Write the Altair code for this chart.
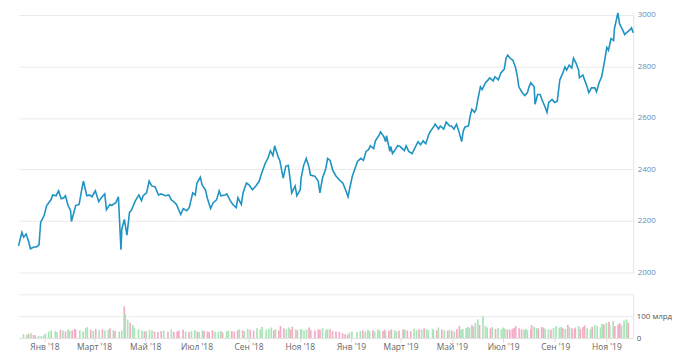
import altair as alt
import pandas as pd

# days counted from 2018-01-01
days = [-25, -21, -19, -16, -13, -11, -7, -4, -1, 1,
        5, 8, 13, 15, 19, 22, 25, 28, 30, 33,
        36, 37, 42, 46, 49, 51, 55, 58, 61, 65,
        69, 72, 76, 78, 82, 84, 89, 92, 95, 96,
        99, 102, 105, 107, 112, 116, 119, 121, 125, 128,
        131, 135, 139, 142, 147, 151, 154, 158, 160, 165,
        168, 172, 175, 179, 182, 184, 188, 190, 194, 196,
        200, 203, 207, 210, 212, 217, 219, 223, 226, 230,
        232, 236, 238, 242, 245, 249, 253, 257, 259, 264,
        267, 270, 273, 275, 279, 281, 285, 288, 291, 293,
        295, 299, 301, 305, 306, 309, 312, 315, 317, 322,
        326, 328, 331, 335, 337, 340, 343, 347, 351, 355,
        358, 361, 363, 366, 372, 376, 379, 382, 385, 387,
        391, 393, 397, 399, 403, 405, 406, 410, 411, 413,
        417, 419, 422, 427, 429, 432, 436, 440, 443, 446,
        449, 452, 455, 457, 462, 463, 467, 469, 473, 476,
        480, 482, 485, 488, 491, 494, 496, 498, 502, 504,
        506, 509, 511, 513, 516, 518, 522, 525, 527, 531,
        533, 537, 540, 544, 546, 548, 551, 554, 557, 559,
        561, 565, 568, 571, 573, 575, 579, 580, 583, 586,
        588, 592, 594, 596, 600, 603, 606, 609, 613, 615,
        617, 620, 623, 625, 628, 631, 632, 636, 638, 641,
        643, 646, 650, 652, 655, 658, 662, 664, 666, 669,
        672, 673, 677, 679, 683, 685, 687, 690, 693, 695]

close = [2103, 2156, 2137, 2149, 2118, 2092, 2099, 2099, 2107, 2195,
         2221, 2260, 2282, 2301, 2298, 2317, 2286, 2290, 2298, 2260,
         2240, 2198, 2260, 2264, 2321, 2355, 2298, 2301, 2294, 2317,
         2275, 2290, 2305, 2244, 2264, 2260, 2271, 2294, 2088, 2168,
         2206, 2145, 2233, 2240, 2279, 2301, 2279, 2298, 2309, 2355,
         2336, 2332, 2301, 2305, 2298, 2301, 2282, 2271, 2264, 2225,
         2248, 2240, 2252, 2309, 2301, 2347, 2370, 2340, 2321, 2290,
         2248, 2271, 2282, 2317, 2298, 2301, 2305, 2279, 2264, 2252,
         2290, 2264, 2309, 2347, 2340, 2321, 2336, 2355, 2378, 2424,
         2443, 2473, 2454, 2492, 2450, 2435, 2366, 2412, 2416, 2366,
         2309, 2336, 2298, 2321, 2366, 2416, 2443, 2412, 2378, 2374,
         2355, 2309, 2366, 2405, 2443, 2435, 2397, 2374, 2359, 2347,
         2321, 2294, 2328, 2374, 2431, 2443, 2435, 2470, 2477, 2492,
         2481, 2511, 2531, 2546, 2527, 2508, 2531, 2470, 2489, 2462,
         2481, 2492, 2489, 2473, 2492, 2470, 2462, 2489, 2508, 2496,
         2511, 2500, 2531, 2546, 2569, 2576, 2557, 2569, 2557, 2584,
         2569, 2569, 2557, 2576, 2546, 2508, 2550, 2565, 2569, 2607,
         2634, 2622, 2634, 2672, 2721, 2710, 2737, 2748, 2756, 2744,
         2760, 2748, 2775, 2790, 2832, 2844, 2832, 2824, 2798, 2767,
         2721, 2698, 2687, 2698, 2721, 2737, 2721, 2653, 2691, 2691,
         2672, 2641, 2622, 2660, 2672, 2660, 2665, 2748, 2779, 2798,
         2786, 2805, 2794, 2832, 2813, 2786, 2756, 2767, 2748, 2721,
         2698, 2717, 2717, 2702, 2737, 2760, 2832, 2874, 2863, 2908,
         2901, 2947, 3008, 2966, 2939, 2924, 2931, 2939, 2950, 2931]

# volume, billions of rubles
volume = [18, 15, 20, 22, 14, 12, 10, 8, 12, 20,
          30, 35, 32, 28, 38, 35, 30, 40, 33, 36,
          42, 38, 35, 30, 45, 50, 38, 32, 42, 36,
          40, 34, 38, 45, 36, 32, 30, 35, 145, 110,
          85, 70, 60, 48, 40, 35, 30, 32, 38, 34,
          30, 28, 32, 35, 30, 40, 28, 30, 34, 38,
          30, 28, 32, 36, 30, 28, 35, 32, 30, 28,
          36, 30, 28, 32, 26, 30, 34, 32, 30, 36,
          40, 35, 32, 42, 38, 34, 45, 40, 50, 38,
          42, 48, 36, 40, 35, 55, 45, 40, 48, 38,
          52, 40, 36, 42, 38, 35, 40, 48, 36, 34,
          40, 38, 45, 36, 42, 40, 32, 30, 28, 22,
          18, 15, 25, 30, 28, 32, 35, 30, 38, 32,
          36, 30, 40, 34, 32, 38, 30, 35, 32, 40,
          36, 30, 34, 40, 38, 35, 32, 42, 36, 40,
          38, 45, 40, 36, 42, 38, 35, 48, 40, 36,
          34, 38, 35, 30, 40, 55, 38, 42, 45, 50,
          48, 60, 52, 70, 85, 60, 100, 55, 48, 45,
          50, 42, 45, 40, 48, 44, 40, 38, 42, 46,
          55, 45, 40, 38, 42, 36, 40, 60, 52, 46,
          44, 50, 48, 42, 40, 38, 45, 55, 48, 50,
          45, 42, 60, 50, 45, 40, 48, 55, 42, 50,
          58, 45, 40, 52, 60, 55, 48, 65, 62, 70,
          75, 60, 78, 55, 62, 68, 58, 80, 85, 70]

price_ticks = [2000, 2200, 2400, 2600, 2800, 3000]
volume_ticks = [0, 100, 200]
tick_months = [(2018, 1), (2018, 3), (2018, 5), (2018, 7), (2018, 9), (2018, 11),
               (2019, 1), (2019, 3), (2019, 5), (2019, 7), (2019, 9), (2019, 11)]
month_names = ["Янв", "Фев", "Март", "Апр", "Май", "Июн",
               "Июл", "Авг", "Сен", "Окт", "Ноя", "Дек"]

start = pd.Timestamp("2018-01-01")
dates = [start + pd.Timedelta(days=d) for d in days]
direction = ["up"] + ["up" if close[i] >= close[i - 1] else "down" for i in range(1, len(close))]
df = pd.DataFrame({"date": dates, "close": close, "volume": volume, "dir": direction})

xscale = alt.Scale(domain=[alt.DateTime(year=2017, month=12, date=7, hours=12),
                           alt.DateTime(year=2019, month=11, date=27)])
font = "Open Sans"
grid_color = "#ebebeb"

line = alt.Chart(df).mark_line(color="#1f93c2", strokeWidth=1.6).encode(
    x=alt.X("date:T", scale=xscale, axis=None),
    y=alt.Y("close:Q", scale=alt.Scale(domain=[2000, 3000], nice=False, zero=False),
            axis=alt.Axis(orient="right", values=price_ticks, title=None, grid=True,
                          gridColor=grid_color, domainColor="#e2e2e2", ticks=False,
                          labelColor="#5b8fbd", labelFont=font, labelFontSize=8,
                          labelPadding=4, format="d")),
).properties(width=618, height=259)

months_js = "[" + ",".join("'" + m + "'" for m in month_names) + "]"
bars = alt.Chart(df).mark_bar(width=1.7).encode(
    x=alt.X("date:T", scale=xscale,
            axis=alt.Axis(values=[alt.DateTime(year=y, month=m, date=1) for y, m in tick_months],
                          labelExpr=months_js + "[month(datum.value)] + \" '\" + timeFormat(datum.value, '%y')",
                          title=None, grid=False, tickColor="#dddddd", tickSize=4,
                          domainColor="#e2e2e2", labelColor="#666666", labelFont=font,
                          labelFontSize=8.5, labelPadding=1)),
    y=alt.Y("volume:Q", scale=alt.Scale(domain=[0, 200], nice=False),
            axis=alt.Axis(orient="right", values=volume_ticks, title=None, grid=True,
                          gridColor=grid_color, domainColor="#e2e2e2", ticks=False,
                          labelExpr="datum.value == 100 ? '100 млрд' : (datum.value == 0 ? '0' : '')",
                          labelColor="#555555", labelFont=font, labelFontSize=8,
                          labelPadding=3)),
    color=alt.Color("dir:N", scale=alt.Scale(domain=["up", "down"], range=["#a9e4b7", "#f3abc6"]),
                    legend=None),
).properties(width=618, height=44)

chart = alt.vconcat(line, bars, spacing=22, bounds="flush").properties(
    padding={"left": 7, "top": 0, "right": 0, "bottom": 0}
).configure_view(stroke=None)

chart.save("out.html", embed_options={"renderer": "svg", "actions": False})
